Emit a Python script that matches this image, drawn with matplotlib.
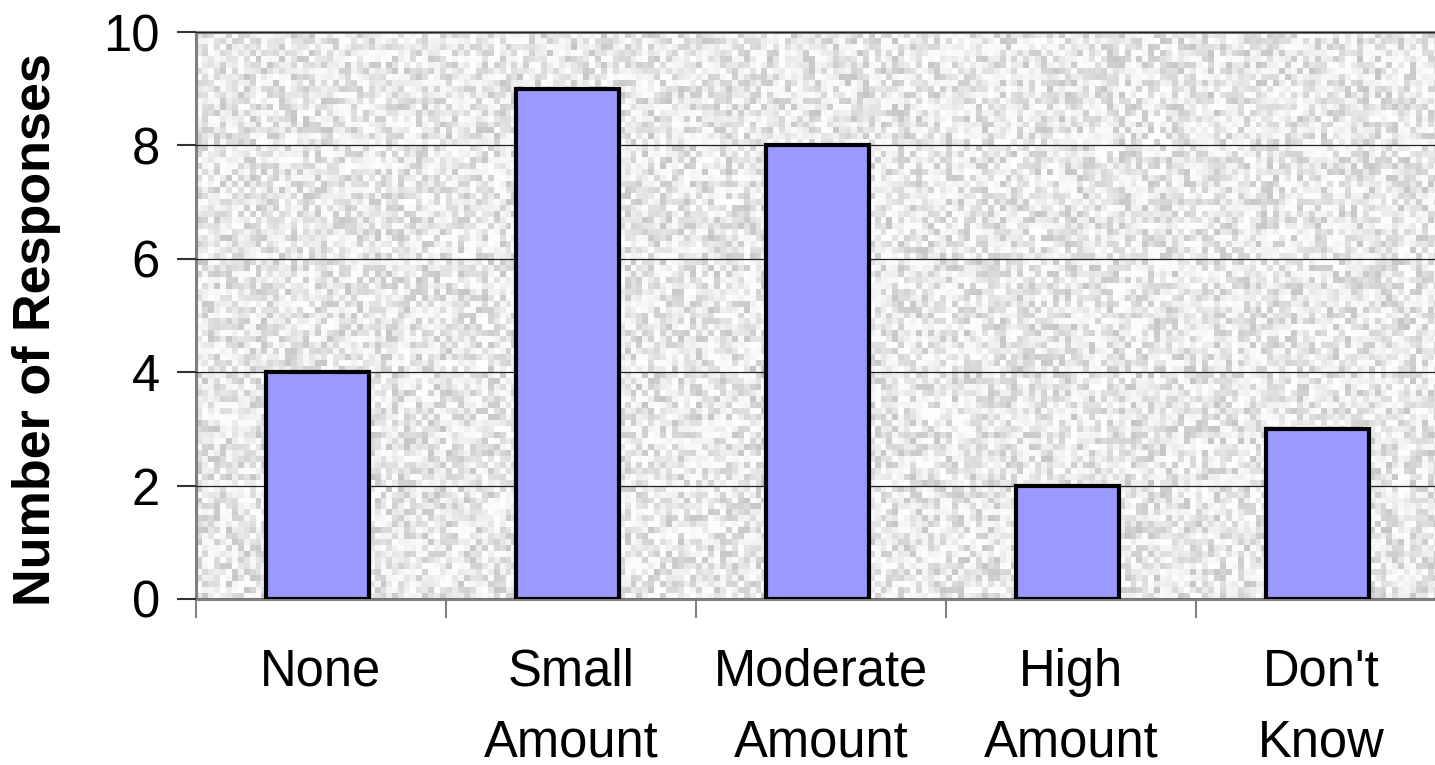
import numpy as np
import matplotlib.pyplot as plt

categories = ["None", "Small\nAmount", "Moderate\nAmount", "High\nAmount", "Don't\nKnow"]
responses = [4, 9, 8, 2, 3]
y_ticks = [0, 2, 4, 6, 8, 10]

plt.rcParams['font.family'] = ['Liberation Sans', 'DejaVu Sans']

fig = plt.figure(figsize=(14.35, 7.65), dpi=100)
ax = fig.add_axes([196 / 1435, 166 / 765, 1250 / 1435, 567 / 765])

# speckled grey background, like the old excel fill
rng = np.random.default_rng(7)
u = rng.uniform(0, 1, size=(95, 210))
noise = 1.0 - 0.22 * u ** 1.6
ax.imshow(np.dstack([noise, noise * 0.995, noise * 0.995]), extent=(0, 5, 0, 10),
          aspect='auto', interpolation='nearest', zorder=0)

x = np.arange(len(categories)) + 0.5
ax.bar(x - 0.015, responses, width=0.41, color='#9999FF', edgecolor='black',
       linewidth=3, zorder=3)

ax.set_xlim(0, 5)
ax.set_ylim(0, 10)
ax.set_yticks(y_ticks)
ax.set_yticklabels([str(t) for t in y_ticks], fontsize=36.5)
ax.yaxis.grid(True, color='#222222', linewidth=0.9, zorder=1)
ax.set_axisbelow(False)

ax.set_xticks(np.arange(0, 6))
ax.set_xticklabels([])
ax.set_xticks(x, minor=True)
ax.set_xticklabels(categories, minor=True, fontsize=36.5, linespacing=1.58, va='top')
ax.tick_params(axis='x', which='major', length=14, width=1.5, color='#808080', direction='out')
ax.tick_params(axis='x', which='minor', length=0, pad=35)
ax.tick_params(axis='y', length=14, width=1.5, color='#333333', pad=12)

for side in ['left', 'bottom', 'top']:
    ax.spines[side].set_color('#808080')
    ax.spines[side].set_linewidth(2.2)
ax.spines['right'].set_visible(False)

fig.text(37 / 1435, (765 - 330) / 765, 'Number of Responses', rotation=90,
         fontsize=37.5, fontweight='bold', ha='center', va='center')

fig.savefig('out.png', dpi=100)
